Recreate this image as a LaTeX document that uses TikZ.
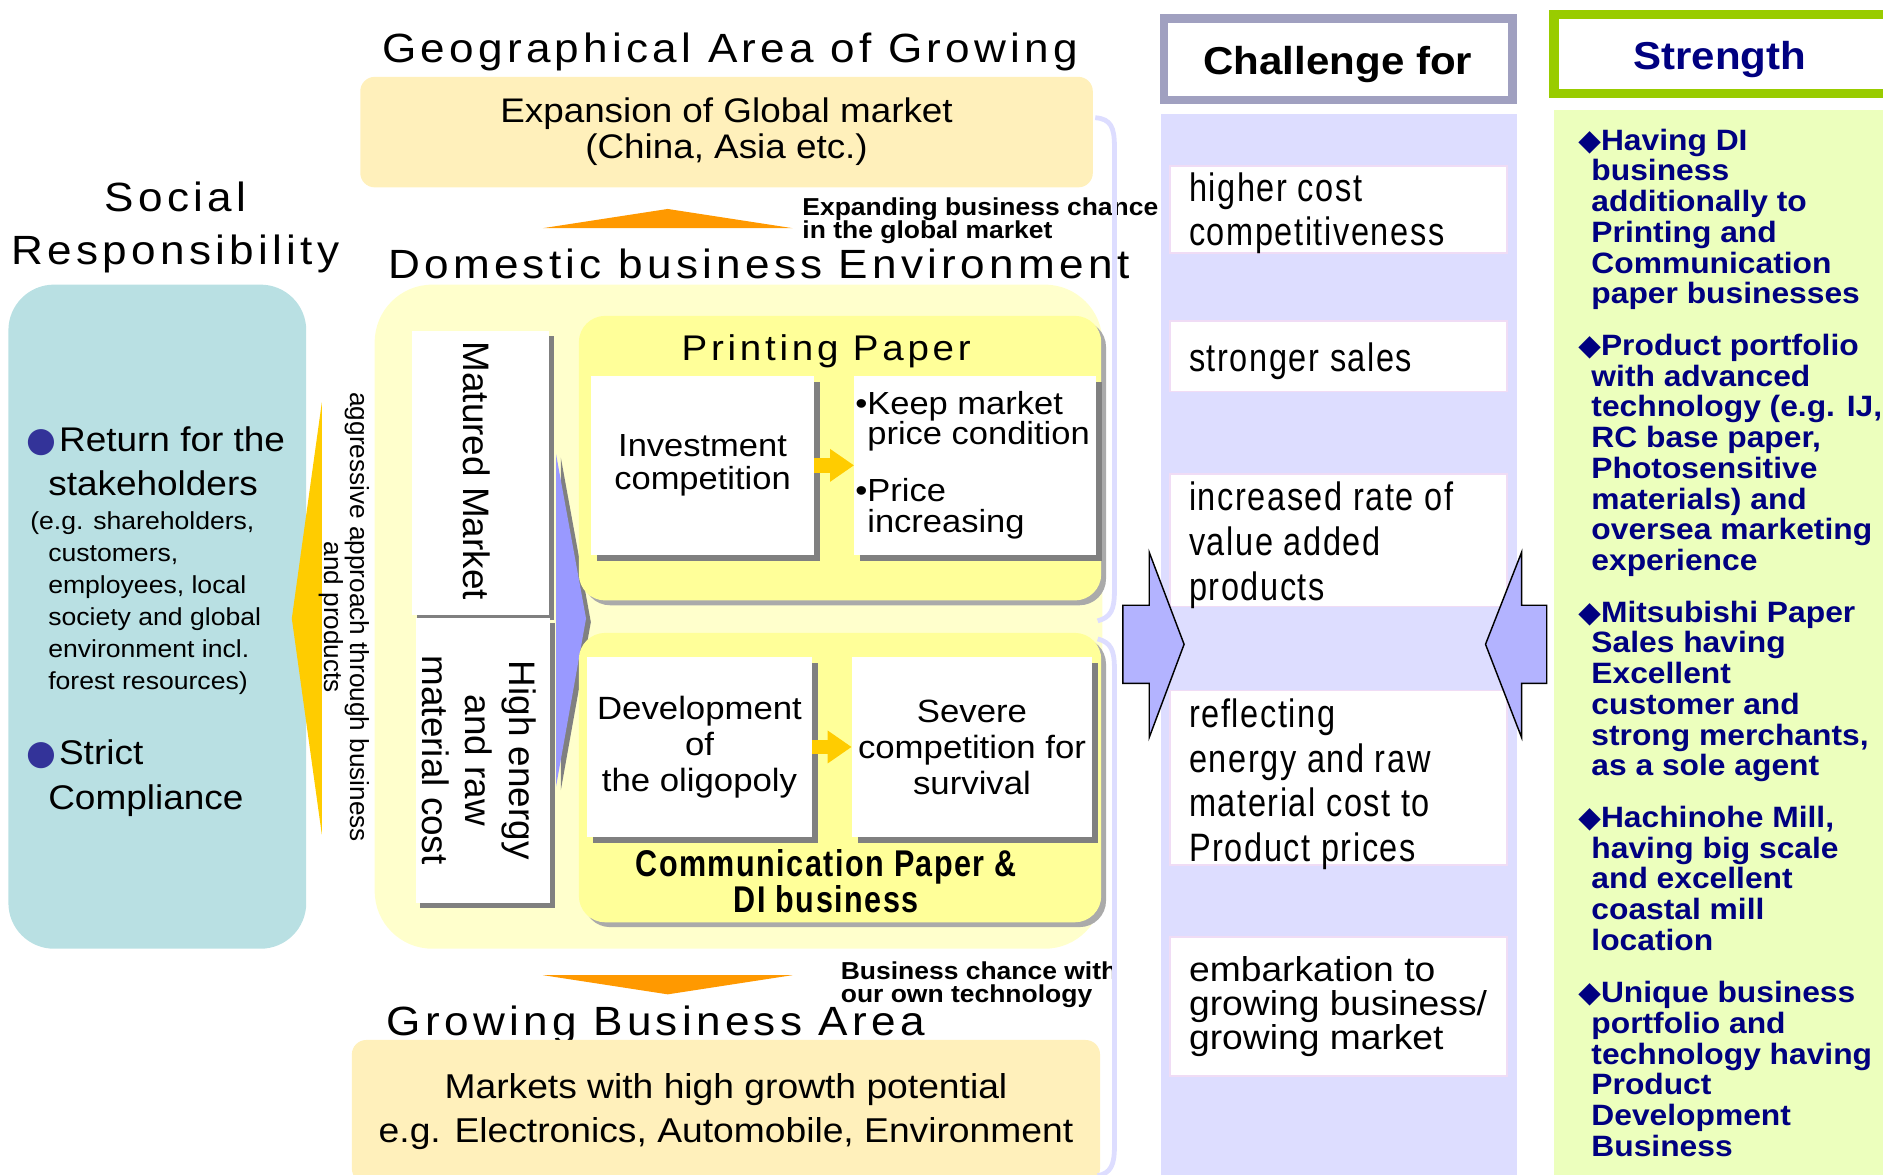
\documentclass[tikz,border=0pt]{standalone}
\usepackage{fontspec}
\usepackage{tikz}
\usetikzlibrary{positioning, arrows.meta, shadows}
\setmainfont[FakeStretch=1.08]{Liberation Sans}
\newfontfamily\titleface[FakeStretch=1.08, LetterSpace=10.5]{Liberation Sans}
\newfontfamily\gothface[FakeStretch=0.82, LetterSpace=4]{Liberation Sans}
\newfontfamily\plainface{Liberation Sans}
\newfontfamily\symface{DejaVu Sans}
\definecolor{mpArea}{RGB}{255, 240, 187}
\definecolor{mpDomestic}{RGB}{255, 255, 204}
\definecolor{mpPaper}{RGB}{255, 255, 153}
\definecolor{mpTeal}{RGB}{185, 224, 227}
\definecolor{mpOrange}{RGB}{255, 153, 0}
\definecolor{mpGold}{RGB}{255, 204, 0}
\definecolor{mpChevron}{RGB}{153, 153, 255}
\definecolor{mpArrow}{RGB}{179, 179, 255}
\definecolor{mpLavender}{RGB}{221, 221, 255}
\definecolor{mpFrame}{RGB}{160, 160, 192}
\definecolor{mpPink}{RGB}{240, 220, 245}
\definecolor{mpGreen}{RGB}{153, 204, 0}
\definecolor{mpGreenFill}{RGB}{236, 255, 189}
\definecolor{mpNavy}{RGB}{0, 0, 128}
\definecolor{mpBullet}{RGB}{51, 51, 153}
\definecolor{mpShadow}{RGB}{128, 128, 128}
\definecolor{mpShadowLight}{RGB}{170, 170, 170}
\newcommand\strengthmark{\hspace*{8pt}\llap{\symface ◆}}
\newcommand\socialmark{\hspace*{9pt}\llap{\textcolor{mpBullet}{\symface ●}\hspace{2pt}}}
\tikzset{
    base/.style={
        align=center,
        inner sep=0pt
    },
    areatitle/.style={
        base,
        anchor=base west,
        font=\titleface\fontsize{34}{44}\selectfont
    },
    areabox/.style={
        base,
        rectangle,
        rounded corners=12pt,
        fill=mpArea,
        font=\fontsize{28.4}{30}\selectfont
    },
    note/.style={
        base,
        align=left,
        anchor=base west,
        font=\bfseries\fontsize{20.4}{19.5}\selectfont
    },
    socialitem/.style={
        base,
        align=left,
        anchor=base west,
        font=\fontsize{28.5}{37}\selectfont
    },
    sideways/.style={
        base,
        rotate=-90,
        font=\plainface\fontsize{30.7}{36}\selectfont
    },
    marketbox/.style={
        rectangle,
        fill=white,
        drop shadow={opacity=1, shadow xshift=4pt, shadow yshift=-4pt, fill=mpShadow}
    },
    paperbox/.style={
        rectangle,
        rounded corners=22pt,
        fill=mpPaper,
        drop shadow={opacity=1, shadow xshift=4pt, shadow yshift=-4pt, fill=mpShadowLight}
    },
    whitebox/.style={
        base,
        rectangle,
        fill=white,
        font=\fontsize{26.6}{27}\selectfont,
        drop shadow={opacity=1, shadow xshift=5pt, shadow yshift=-5pt, fill=mpShadow}
    },
    smallarrow/.style={
        -{Triangle[length=20pt, width=26pt]},
        line width=12pt,
        draw=mpGold
    },
    blockarrow/.style={
        fill=mpArrow,
        draw=black,
        line width=1.2pt,
        line join=miter
    },
    brace/.style={
        draw=mpLavender,
        line width=4pt
    },
    headtext/.style={
        base,
        anchor=base,
        font=\bfseries\fontsize{32.4}{36}\selectfont
    },
    challbox/.style={
        rectangle,
        fill=white,
        draw=mpPink,
        line width=1.5pt,
        minimum width=281pt
    },
    challtext/.style={
        base,
        align=left,
        anchor=base west,
        font=\gothface\fontsize{33}{37}\selectfont
    },
    strength/.style={
        base,
        align=left,
        anchor=base west,
        text=mpNavy,
        font=\bfseries\fontsize{24.5}{25.6}\selectfont
    }
}

\begin{document}
\begin{tikzpicture}[x=1pt, y=-1pt]
  \useasboundingbox (0,0) rectangle (1568,978);

  % Area titles (multi-line nodes sit on their last baseline)
  \node[areatitle] (geotitle) at (318,52) {Geographical Area of Growing};
  \node[areatitle] (domtitle) at (323,232) {Domestic business Environment};
  \node[areatitle] (growtitle) at (322,862) {Growing Business Area};
  \node[areatitle, anchor=base, align=center] (socialtitle) at (146,220) {Social\\Responsibility};

  % Global market / growing business
  \node[areabox, minimum width=610pt, minimum height=92pt] (global) at (605,110)
    {Expansion of Global market\\(China, Asia etc.)};
  \node[areabox, minimum width=623pt, minimum height=119pt, font=\fontsize{28.7}{37}\selectfont] (growth) at (604.5,925.5)
    {Markets with high growth potential\\e.g. Electronics, Automobile, Environment};
  \fill[mpOrange] (452,190) -- (556,174) -- (660,190) -- cycle;
  \fill[mpOrange] (452,812) -- (660,812) -- (556,828) -- cycle;
  \node[note] (globalnote) at (668,199) {Expanding business chance\\in the global market};
  \node[note] (technote) at (700,835) {Business chance with\\our own technology};

  % Social responsibility
  \node[rectangle, rounded corners=38pt, fill=mpTeal, minimum width=248pt, minimum height=553pt] (social) at (131,513.5) {};
  \node[socialitem] (returnitem) at (40,413) {\socialmark Return for the\\stakeholders};
  \node[socialitem, font=\fontsize{20.5}{26.7}\selectfont] (returnsub) at (40,574.5)
    {\hspace*{-15pt}(e.g. shareholders,\\customers,\\employees, local\\society and global\\environment incl.\\forest resources)};
  \node[socialitem] (strictitem) at (40,674) {\socialmark Strict\\Compliance};

  % Domestic business environment
  \node[rectangle, rounded corners=48pt, fill=mpDomestic, minimum width=606pt, minimum height=553pt] (domestic) at (615,513.5) {};
  \fill[mpGold] (268,335) -- (243,515) -- (268,695) -- cycle;
  \node[sideways, font=\plainface\fontsize{21.8}{21.5}\selectfont] (approach) at (286.7,514)
    {aggressive approach through business\\and products};
  \node[marketbox, minimum width=114pt, minimum height=236pt] (mature) at (400,394) {};
  \node[marketbox, minimum width=112pt, minimum height=237pt] (energy) at (402,633.5) {};
  \node[sideways] (maturetext) at (397,392) {Matured Market};
  \node[sideways] (energytext) at (399,633) {High energy\\and raw\\material cost};
  \fill[mpShadow] (467,381) -- (492,518) -- (467,658) -- cycle;
  \fill[mpChevron] (463,378) -- (488,515) -- (463,655) -- cycle;

  % Printing paper
  \node[paperbox, minimum width=435pt, minimum height=237pt] (printing) at (699.5,381.5) {};
  \node[base, anchor=base, font=\titleface\fontsize{29.7}{34}\selectfont] (printtitle) at (688,300) {Printing Paper};
  \node[whitebox, minimum width=186pt, minimum height=149pt] (invest) at (585,387.5) {Investment\\competition};
  \node[whitebox, minimum width=201pt, minimum height=149pt, right=33pt of invest] (keep) {};
  \node[base, align=left, anchor=base west, font=\fontsize{26.6}{25}\selectfont] (keeptext) at (712,443)
    {•Keep market\\\phantom{•}price condition\\[23pt]•Price\\\phantom{•}increasing};
  \draw[smallarrow] (invest) -- (keep);

  % Communication paper & DI
  \node[paperbox, minimum width=435pt, minimum height=241pt] (commun) at (699.5,647.5) {};
  \node[whitebox, font=\fontsize{26.8}{30}\selectfont, minimum width=187pt, minimum height=150pt] (develop) at (582.5,622)
    {Development\\of\\the oligopoly};
  \node[whitebox, font=\fontsize{26.8}{30}\selectfont, minimum width=200pt, minimum height=150pt, right=33pt of develop] (severe)
    {Severe\\competition for\\survival};
  \draw[smallarrow] (develop) -- (severe);
  \node[base, anchor=base, font=\gothface\bfseries\fontsize{31}{30}\selectfont] (communtitle) at (688,760)
    {Communication Paper \&\\DI business};

  % bracket on the right of the areas
  \draw[brace] (912,98) .. controls (925,99) and (928,106) .. (928,122) -- (928,492)
    .. controls (928,508) and (925,514) .. (914,517);
  \draw[brace] (914,532) .. controls (925,535) and (928,541) .. (928,557) -- (928,955)
    .. controls (928,970) and (925,977) .. (914,979);

  % Challenge column
  \fill[mpLavender] (967,95) rectangle (1263,985);
  \node[rectangle, fill=white, draw=mpFrame, line width=7pt, minimum width=290pt, minimum height=68pt] (challhead) at (1114.5,49.5) {};
  \node[headtext] (challtitle) at (1114,62) {Challenge for};
  \node[challbox, minimum height=73pt] (cost) at (1114.5,174.5) {};
  \node[challbox, minimum height=59pt] (sales) at (1114.5,296.5) {};
  \node[challbox, minimum height=110pt] (value) at (1114.5,450) {};
  \node[challbox, minimum height=145pt] (prices) at (1114.5,647.5) {};
  \node[challbox, minimum height=116pt] (embark) at (1114.5,838) {};
  \node[challtext, font=\gothface\fontsize{33}{36.5}\selectfont] (costtext) at (990,204.5) {higher cost\\competitiveness};
  \node[challtext] (salestext) at (990,309) {stronger sales};
  \node[challtext, font=\gothface\fontsize{33}{37.5}\selectfont] (valuetext) at (990,500) {increased rate of\\value added\\products};
  \node[challtext] (pricestext) at (990,717) {reflecting\\energy and raw\\material cost to\\Product prices};
  \node[challtext, font=\fontsize{28.7}{28.5}\selectfont] (embarktext) at (990,874)
    {embarkation to\\growing business/\\growing market};

  % Block arrows into the challenges
  \filldraw[blockarrow] (935,504) -- (957,504) -- (957,460) -- (986,536.5) -- (957,614) -- (957,569) -- (935,569) -- cycle;
  \filldraw[blockarrow] (1288,504) -- (1267,504) -- (1267,460) -- (1237,536.5) -- (1267,614) -- (1267,569) -- (1288,569) -- cycle;

  % Strength column
  \fill[mpGreenFill] (1294,92) rectangle (1590,985);
  \node[rectangle, fill=white, draw=mpGreen, line width=8pt, minimum width=296pt, minimum height=66pt] (stronghead) at (1442,45) {};
  \node[headtext, text=mpNavy] (strongtitle) at (1432,58) {Strength};
  \node[strength] (strongdi) at (1325,253)
    {\strengthmark Having DI\\business\\additionally to\\Printing and\\Communication\\paper businesses};
  \node[strength] (strongtech) at (1325,475.2)
    {\strengthmark Product portfolio\\with advanced\\technology (e.g. IJ,\\RC base paper,\\Photosensitive\\materials) and\\oversea marketing\\experience};
  \node[strength] (strongsales) at (1325,646)
    {\strengthmark Mitsubishi Paper\\Sales having\\Excellent\\customer and\\strong merchants,\\as a sole agent};
  \node[strength] (strongmill) at (1325,791.4)
    {\strengthmark Hachinohe Mill,\\having big scale\\and excellent\\coastal mill\\location};
  \node[strength] (strongunique) at (1325,963)
    {\strengthmark Unique business\\portfolio and\\technology having\\Product\\Development\\Business};
\end{tikzpicture}
\end{document}
